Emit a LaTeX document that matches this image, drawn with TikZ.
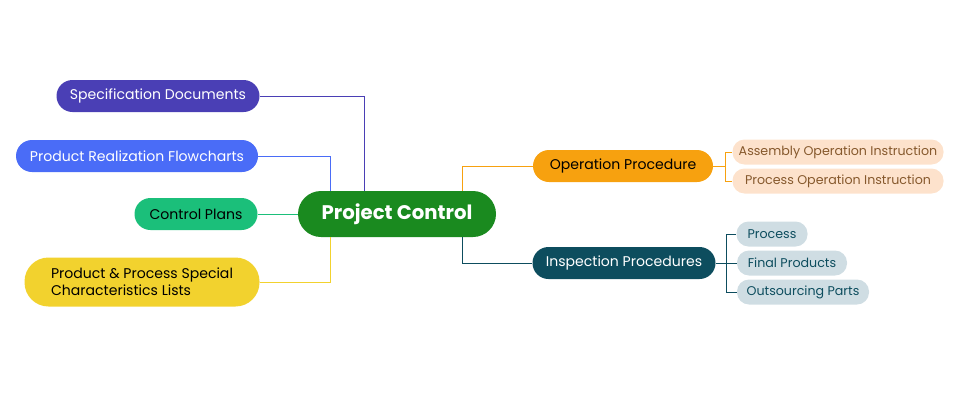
\documentclass[tikz,border=0pt]{standalone}
\usepackage{fontspec}
\setmainfont{Poppins}
\usetikzlibrary{positioning}
\definecolor{rootgreen}{HTML}{1A8A1F}
\definecolor{specblue}{HTML}{4A3FB5}
\definecolor{flowblue}{HTML}{4A6CF7}
\definecolor{plangreen}{HTML}{1BBF7A}
\definecolor{charyellow}{HTML}{F2D22E}
\definecolor{operorange}{HTML}{F7A10F}
\definecolor{inspteal}{HTML}{0D4D5E}
\definecolor{peach}{HTML}{FDE2CC}
\definecolor{greyblue}{HTML}{CFDDE3}
\begin{document}
\begin{tikzpicture}[x=0.25mm,y=-0.25mm,
    branch/.style={rounded corners=16*0.25mm, minimum height=32*0.25mm, inner sep=0pt, font=\fontsize{10}{12}\selectfont},
    leaf/.style={rounded corners=12*0.25mm, minimum height=25*0.25mm, inner sep=0pt, font=\fontsize{9}{11}\selectfont},
    link/.style={line width=0.5pt}]
  \useasboundingbox (0,0) rectangle (960,400);

  %% root
  \node[fill=rootgreen, text=white, rounded corners=23*0.25mm, minimum width=198*0.25mm,
        minimum height=46*0.25mm, font=\fontsize{14}{16}\selectfont\bfseries] (root) at (397,214) {Project Control};

  %% left branches
  \node[branch, fill=specblue, text=white, minimum width=203*0.25mm] (spec) at (158,96) {Specification Documents};
  \node[branch, fill=flowblue, text=white, minimum width=242*0.25mm] (flow) at (137,156) {Product Realization Flowcharts};
  \node[branch, fill=plangreen, text=black, minimum width=123*0.25mm] (plans) at (196,214) {Control Plans};
  \node[branch, fill=charyellow, text=black, minimum width=235*0.25mm, minimum height=49*0.25mm,
        rounded corners=24*0.25mm, align=left] (chars) at (142,282) {Product \& Process Special\\Characteristics Lists};

  %% right branches
  \node[branch, fill=operorange, text=black, minimum width=180*0.25mm] (oper) at (623,166) {Operation Procedure};
  \node[branch, fill=inspteal, text=white, minimum width=183*0.25mm] (insp) at (624,263) {Inspection Procedures};

  %% leaves
  \node[leaf, fill=peach, text=brown!70!black, minimum width=211*0.25mm] (assy) at (838,152) {Assembly Operation Instruction};
  \node[leaf, fill=peach, text=brown!70!black, minimum width=211*0.25mm] (proc) at (838,181) {Process Operation Instruction};
  \node[leaf, fill=greyblue, text=inspteal, minimum width=71*0.25mm] (procs) at (772,234) {Process};
  \node[leaf, fill=greyblue, text=inspteal, minimum width=110*0.25mm] (final) at (792,263) {Final Products};
  \node[leaf, fill=greyblue, text=inspteal, minimum width=132*0.25mm] (outs) at (803,292) {Outsourcing Parts};

  %% connectors
  \draw[link, specblue] (spec.east) -| ([xshift=-33*0.25mm]root.north);
  \draw[link, flowblue] (flow.east) -| ([xshift=-67*0.25mm]root.north);
  \draw[link, plangreen] (plans.east) -- (root.west);
  \draw[link, charyellow] (chars.east) -| ([xshift=-67*0.25mm]root.south);
  \draw[link, operorange] ([xshift=65*0.25mm]root.north) |- (oper.west);
  \draw[link, inspteal] ([xshift=65*0.25mm]root.south) |- (insp.west);
  \coordinate (ojoin) at (725,166);
  \coordinate (ijoin) at (726,263);
  \draw[link, operorange] (oper.east) -- (ojoin) |- (assy.west);
  \draw[link, operorange] (ojoin) |- (proc.west);
  \draw[link, inspteal] (insp.east) -- (ijoin) |- (procs.west);
  \draw[link, inspteal] (ijoin) -- (final.west);
  \draw[link, inspteal] (ijoin) |- (outs.west);
\end{tikzpicture}
\end{document}
